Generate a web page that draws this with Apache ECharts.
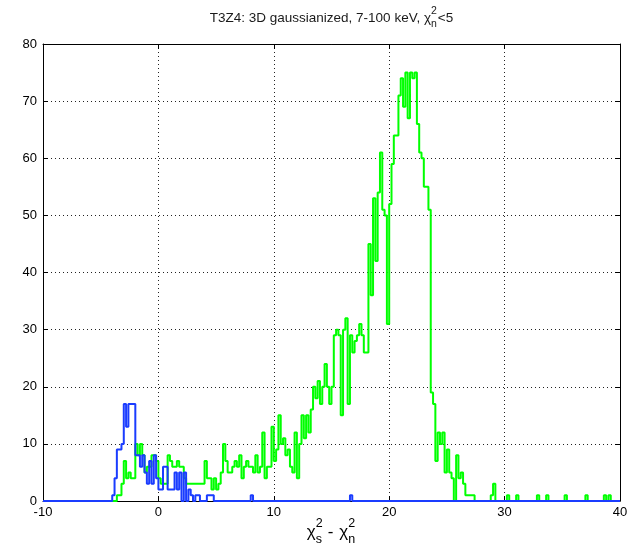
<!DOCTYPE html>
<html>
<head>
<meta charset="utf-8">
<script src="https://cdn.jsdelivr.net/npm/echarts@6/dist/echarts.min.js"></script>
<style>
  html, body { margin: 0; padding: 0; background: #fff; }
  #chart { width: 635px; height: 552px; }
</style>
</head>
<body>
<div id="chart"></div>
<script>
// Histogram binning
const BIN = 0.2;
const X_MIN = -10, X_MAX = 40;
const Y_MIN = 0, Y_MAX = 80;
const xTicks = [-10, 0, 10, 20, 30, 40];
const yTicks = [0, 10, 20, 30, 40, 50, 60, 70, 80];

// Green histogram: counts per 0.2-wide bin, first bin starts at greenStart
const greenStart = -3.6;
const greenCounts = [
  1, 1, 3, 7, 4, 5, 4, 4, 10, 8,          // -3.6 .. -1.8
  10, 8, 5, 6, 6, 8, 8, 7, 4, 3,          // -1.6 .. 0.2
  3, 3, 8, 7, 6, 6, 7, 6, 6, 4,           // 0.4 .. 2.2
  3, 3, 3, 3, 3, 3, 3, 3, 7, 4,           // 2.4 .. 4.2
  4, 2, 4, 2, 3, 5, 10, 7, 5, 5,          // 4.4 .. 6.2
  6, 7, 6, 8, 4, 6, 7, 6, 6, 5,           // 6.4 .. 8.2
  8, 5, 6, 12, 4, 6, 6, 13, 7, 9,         // 8.4 .. 10.2
  15, 10, 11, 8, 9, 6, 5, 12, 4, 10,      // 10.4 .. 12.2
  15, 11, 15, 12, 16, 20, 18, 21, 17, 20, // 12.4 .. 14.2
  24, 20, 17, 20, 29, 30, 29, 15, 30, 32, // 14.4 .. 16.2
  17, 29, 26, 28, 29, 31, 29, 26, 26, 45, // 16.4 .. 18.2
  36, 53, 42, 54, 61, 51, 50, 31, 52, 59, // 18.4 .. 20.2
  64, 64, 71, 74, 69, 75, 67, 75, 74, 75, // 20.4 .. 22.2
  66, 61, 60, 55, 55, 51, 19, 17, 7, 12,  // 22.4 .. 24.2
  10, 12, 5, 9, 5, 4, 0, 8, 4, 5,         // 24.4 .. 26.2
  3, 1, 1, 1, 1                           // 26.4 .. 27.2
];
// Isolated green bins further out: [bin start, count]
const greenTail = [
  [28.8, 1], [29.0, 3], [30.2, 1], [31.0, 1], [32.8, 1],
  [33.6, 1], [35.2, 1], [37.0, 1], [38.6, 1], [39.0, 1]
];

// Blue histogram
const blueStart = -4.0;
const blueCounts = [
  1, 4, 9, 9, 10, 17, 13, 17, 17, 17,     // -4.0 .. -2.2
  8, 8, 6, 8, 5, 3, 7, 3, 8, 4,           // -2.0 .. -0.2
  2, 2, 6, 6, 2, 2, 2, 5, 2, 5,           // 0.0 .. 1.8
  0, 5, 0, 2, 1, 0, 1, 1, 0, 0,           // 2.0 .. 3.8
  0, 1, 1, 1                              // 4.0 .. 4.6
];
const blueTail = [[8.0, 1], [16.6, 1]];

// Expand a sparse histogram to stair points spanning the whole x range
function buildStairs(start, counts, tail) {
  const n = Math.round((X_MAX - X_MIN) / BIN);
  const vals = new Array(n).fill(0);
  const offset = Math.round((start - X_MIN) / BIN);
  counts.forEach((c, i) => { vals[offset + i] = c; });
  tail.forEach(([x, c]) => { vals[Math.round((x - X_MIN) / BIN)] = c; });
  const pts = vals.map((v, i) => [+(X_MIN + i * BIN).toFixed(2), v]);
  pts.push([X_MAX, 0]);
  return pts;
}

const greenData = buildStairs(greenStart, greenCounts, greenTail);
const blueData = buildStairs(blueStart, blueCounts, blueTail);

// Text helpers for chi-squared labels with stacked super/subscripts
const FONT = '"Liberation Sans", Arial, Helvetica, sans-serif';
const ctx = document.createElement('canvas').getContext('2d');
function textWidth(t, size) {
  ctx.font = size + 'px ' + FONT;
  return ctx.measureText(t).width;
}
function buildLabel(parts, cx, cy, size, small, color) {
  // parts: strings, {gap} spacers, or {sup, sub} stacks
  const widths = parts.map(p => typeof p === 'string' ? textWidth(p, size)
    : (p.gap !== undefined ? p.gap
    : Math.max(textWidth(p.sup, small), textWidth(p.sub, small)) + 1));
  const total = widths.reduce((a, b) => a + b, 0);
  let x = cx - total / 2;
  const els = [];
  const mk = (t, px, py, sz) => ({ type: 'text', x: px, y: py, silent: true, style: {
    text: t, fill: color, font: sz + 'px ' + FONT,
    textAlign: 'left', textVerticalAlign: 'middle' } });
  parts.forEach((p, i) => {
    if (typeof p === 'string') {
      els.push(mk(p, x, cy, size));
    } else if (p.sup !== undefined) {
      els.push(mk(p.sup, x, cy - size * 0.5, small));
      els.push(mk(p.sub, x, cy + size * 0.45, small));
    }
    x += widths[i];
  });
  return els;
}

const GRID = { left: 43, right: 15, top: 44, bottom: 51 };
const plotCenter = GRID.left + (635 - GRID.left - GRID.right) / 2;

const titleEls = buildLabel(
  ['T3Z4: 3D gaussianized, 7-100 keV, χ', { sup: '2', sub: 'n' }, '<5'],
  plotCenter, 18, 13.5, 10.5, '#1a1a1a');
const xLabelEls = buildLabel(
  ['χ', { sup: '2', sub: 's' }, { gap: 4 }, '-', { gap: 6 }, 'χ', { sup: '2', sub: 'n' }],
  plotCenter, 532, 17, 12.5, '#000');

const dotted = { color: '#222', width: 1, type: [1, 3] };
const axisLineStyle = { lineStyle: { color: '#000', width: 1 } };
const tickStyle = { show: true, inside: true, length: 5, lineStyle: { color: '#000', width: 1 } };
const labelStyle = { color: '#000', fontSize: 13, fontFamily: FONT };

const chart = echarts.init(document.getElementById('chart'), null, { renderer: 'canvas' });
chart.setOption({
  animation: false,
  backgroundColor: '#fff',
  grid: GRID,
  xAxis: [
    {
      type: 'value', min: X_MIN, max: X_MAX, interval: 10, position: 'bottom',
      axisLine: { show: true, onZero: false, ...axisLineStyle },
      axisTick: tickStyle,
      axisLabel: { ...labelStyle, margin: 5 },
      splitLine: { show: true, lineStyle: dotted }
    },
    {
      type: 'value', min: X_MIN, max: X_MAX, interval: 10, position: 'top',
      axisLine: { show: true, onZero: false, ...axisLineStyle },
      axisTick: tickStyle,
      axisLabel: { show: false },
      splitLine: { show: false }
    }
  ],
  yAxis: [
    {
      type: 'value', min: Y_MIN, max: Y_MAX, interval: 10, position: 'left',
      axisLine: { show: true, onZero: false, ...axisLineStyle },
      axisTick: tickStyle,
      axisLabel: { ...labelStyle, margin: 6 },
      splitLine: { show: true, lineStyle: dotted }
    },
    {
      type: 'value', min: Y_MIN, max: Y_MAX, interval: 10, position: 'right',
      axisLine: { show: true, onZero: false, ...axisLineStyle },
      axisTick: tickStyle,
      axisLabel: { show: false },
      splitLine: { show: false }
    }
  ],
  series: [
    {
      name: 'green', type: 'line', step: 'end', data: greenData,
      showSymbol: false, clip: false, z: 3,
      lineStyle: { color: '#00ff00', width: 2 }
    },
    {
      name: 'blue', type: 'line', step: 'end', data: blueData,
      showSymbol: false, clip: false, z: 4,
      lineStyle: { color: '#1a3cff', width: 2 }
    }
  ],
  graphic: titleEls.concat(xLabelEls)
});
</script>
</body>
</html>
